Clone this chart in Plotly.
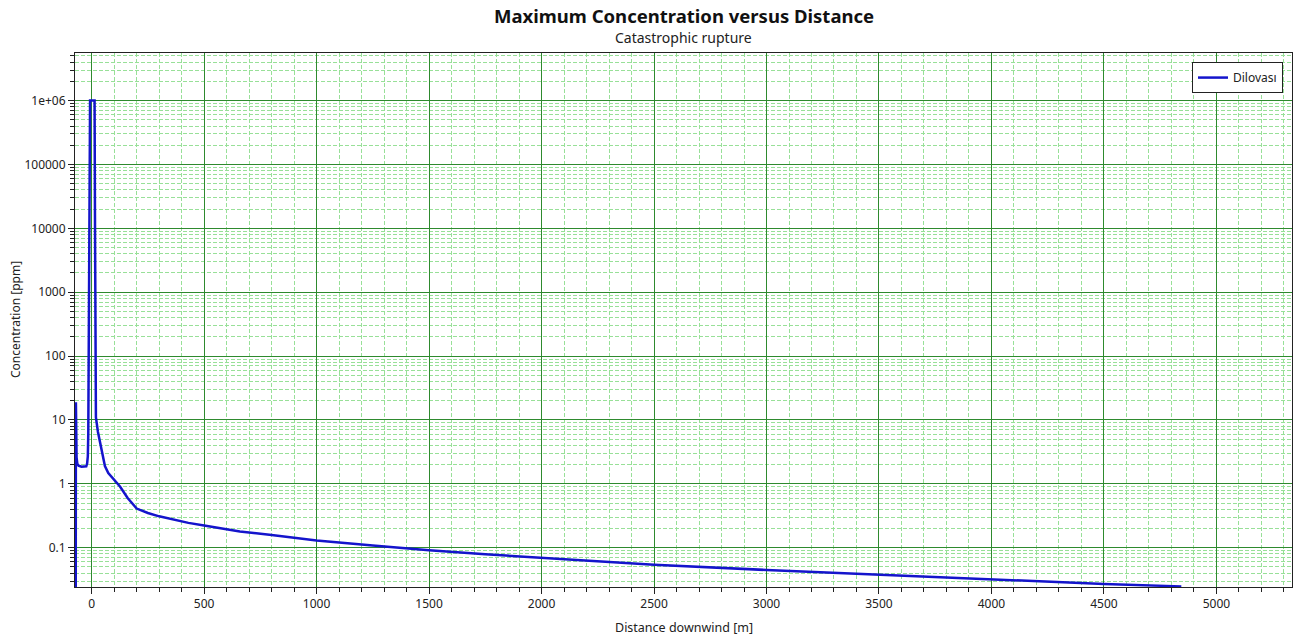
import plotly.graph_objects as go

# Data
distance_m = [-71, -70, -69, -67, -64, -58, -45, -30, -24, -20, -17, -15, -13, -11, -9, -7,
              0, 10, 13, 15, 17, 19, 28, 40, 59, 74, 100, 126, 160, 200, 215, 250, 300, 362,
              430, 500, 580, 659, 800, 1000, 1250, 1500, 1750, 2000, 2500, 3000, 3500, 4000,
              4500, 4844]
concentration_ppm = [0.001, 19, 5, 2.6, 2.1, 1.92, 1.85, 1.84, 1.88, 2.1, 2.7, 6, 60, 3000, 1e5, 1e6,
                     1e6, 1e6, 1e6, 1e4, 200, 11, 6.5, 4, 1.9, 1.47, 1.15, 0.91, 0.6, 0.41, 0.39, 0.35, 0.31, 0.274,
                     0.245, 0.223, 0.2, 0.18, 0.158, 0.13, 0.108, 0.091, 0.079, 0.069, 0.054, 0.0448, 0.0379, 0.0316,
                     0.0271, 0.0248]
series_name = "Dilovası"

title_text = "Maximum Concentration versus Distance"
subtitle_text = "Catastrophic rupture"
x_title = "Distance downwind [m]"
y_title = "Concentration [ppm]"

y_tick_vals = [0.1, 1, 10, 100, 1000, 10000, 100000, 1000000]
y_tick_text = ["0.1", "1", "10", "100", "1000", "10000", "100000", "1e+06"]
y_minor_vals = [m * d for d in [0.01, 0.1, 1, 10, 100, 1000, 10000, 100000, 1000000] for m in range(2, 10)]
x_minor_vals = [v for v in range(-100, 5401, 100) if v % 500 != 0]

MAJOR_GRID = "#2e8a2e"
MINOR_GRID = "#98e098"
FONT = "Noto Sans, Open Sans, sans-serif"

fig = go.Figure()
fig.add_trace(go.Scatter(
    x=distance_m, y=concentration_ppm, mode="lines", name=series_name,
    line=dict(color="#1414cc", width=2.5),
))

fig.update_layout(
    width=1309, height=639,
    margin=dict(l=75, r=17, t=53, b=52, autoexpand=False),
    paper_bgcolor="white", plot_bgcolor="white",
    font=dict(family=FONT, size=12, color="#222222"),
    showlegend=True,
    legend=dict(
        x=0.9926, xanchor="right", y=0.983, yanchor="top",
        bgcolor="white", bordercolor="#222222", borderwidth=1,
        font=dict(family=FONT, size=12, color="#222222"),
        itemwidth=30,
    ),
    annotations=[
        dict(text="<b>" + title_text + "</b>", xref="paper", yref="paper", x=0.5, y=1,
             xanchor="center", yanchor="middle", yshift=38, showarrow=False,
             font=dict(family=FONT, size=18.5, color="#111111")),
        dict(text=subtitle_text, xref="paper", yref="paper", x=0.5, y=1,
             xanchor="center", yanchor="middle", yshift=16, showarrow=False,
             font=dict(family=FONT, size=14, color="#222222")),
        dict(text=x_title, xref="paper", yref="paper", x=0.5, y=0,
             xanchor="center", yanchor="middle", yshift=-40, showarrow=False,
             font=dict(family=FONT, size=12.5, color="#222222")),
        dict(text=y_title, xref="paper", yref="paper", x=0, y=0.5, textangle=-90,
             xanchor="center", yanchor="middle", xshift=-60, showarrow=False,
             font=dict(family=FONT, size=12, color="#222222")),
    ],
)

fig.update_xaxes(
    range=[-74, 5336], dtick=500, tick0=0, automargin=False,
    showline=True, linecolor="#222222", linewidth=1, mirror=True,
    ticks="outside", ticklen=6, tickcolor="#222222",
    showgrid=True, gridcolor=MAJOR_GRID, gridwidth=1, zeroline=False,
    minor=dict(tickmode="array", tickvals=x_minor_vals, ticks="outside", ticklen=4, tickcolor="#222222",
               showgrid=True, gridcolor=MINOR_GRID, griddash="4px,2px", gridwidth=1),
)

fig.update_yaxes(
    type="log", range=[-1.615, 6.745], automargin=False,
    tickmode="array", tickvals=y_tick_vals, ticktext=y_tick_text,
    showline=True, linecolor="#222222", linewidth=1, mirror=True,
    ticks="outside", ticklen=6, tickcolor="#222222",
    showgrid=True, gridcolor=MAJOR_GRID, gridwidth=1, zeroline=False,
    minor=dict(tickmode="array", tickvals=y_minor_vals, ticks="outside", ticklen=4, tickcolor="#222222",
               showgrid=True, gridcolor=MINOR_GRID, griddash="4px,2px", gridwidth=1),
)

fig.write_html("out.html")
